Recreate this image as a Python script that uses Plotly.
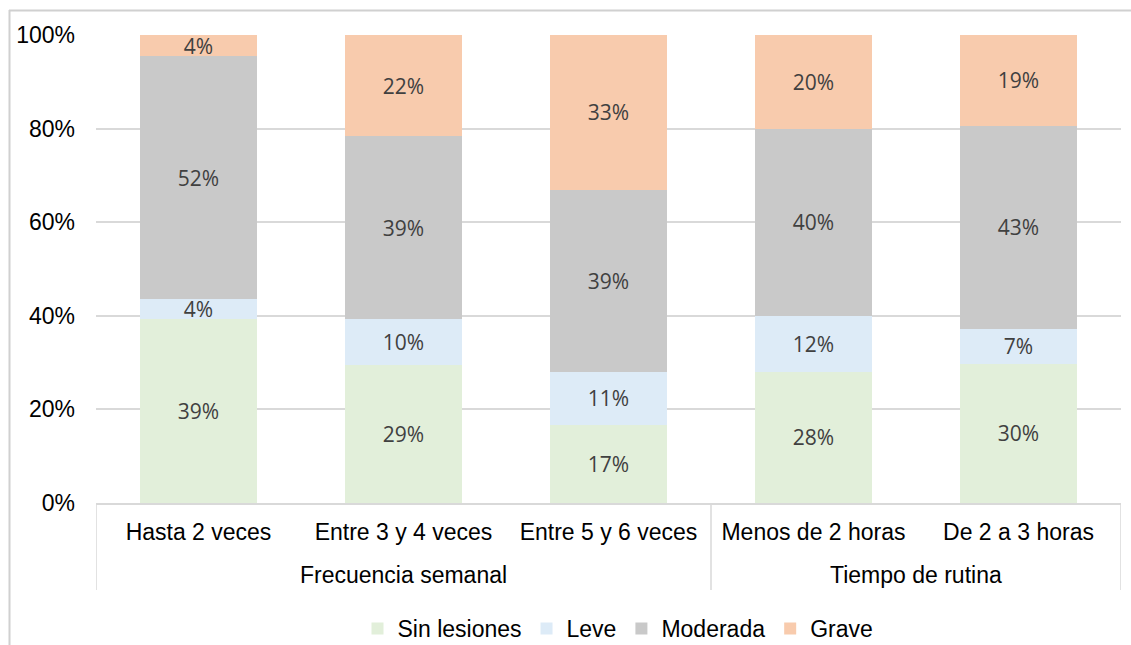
import plotly.graph_objects as go

categories = ["Hasta 2 veces", "Entre 3 y 4 veces", "Entre 5 y 6 veces",
              "Menos de 2 horas", "De 2 a 3 horas"]
group_names = ["Frecuencia semanal", "Tiempo de rutina"]
group_spans = [(0, 2), (3, 4)]  # index ranges of categories in each group

sin_lesiones = [39.3, 29.4, 16.7, 28.0, 29.8]
leve = [4.3, 9.9, 11.3, 12.0, 7.4]
moderada = [51.9, 39.1, 38.9, 40.0, 43.4]
grave = [4.5, 21.6, 33.1, 20.0, 19.4]

series = [
    ("Sin lesiones", sin_lesiones, "#E2EFDA"),
    ("Leve", leve, "#DDEBF7"),
    ("Moderada", moderada, "#C9C9C9"),
    ("Grave", grave, "#F8CBAD"),
]

fig = go.Figure()
for name, vals, color in series:
    fig.add_trace(go.Bar(
        x=categories, y=vals, name=name,
        marker=dict(color=color, line=dict(width=0)),
        text=[f"{round(v):d}%" for v in vals],
        textposition="inside", insidetextanchor="middle", textangle=0,
        textfont=dict(family="Open Sans", size=21, color="#404040"),
        hoverinfo="skip",
    ))

W, H = 1131, 645
L, R, T, B = 96, 10, 35, 142
pw, ph = W - L - R, H - T - B

def px(xp):
    return (xp - L) / pw

def py(yp):
    return (H - B - yp) / ph

GRID = "#D9D9D9"
BORDER = "#D0D0D0"
shapes = [
    # outer chart border (top and left edges; right/bottom lie outside the picture)
    dict(type="line", xref="paper", yref="paper", x0=px(9), x1=px(1131), y0=py(10.5), y1=py(10.5),
         line=dict(color=BORDER, width=2), layer="above"),
    dict(type="line", xref="paper", yref="paper", x0=px(9.5), x1=px(9.5), y0=py(10), y1=py(645),
         line=dict(color=BORDER, width=2), layer="above"),
]
annotations = []
bounds = sorted({s for s, _ in group_spans} | {e + 1 for _, e in group_spans})
for b in bounds:
    shapes.append(dict(type="line", xref="x", yref="paper", x0=b - 0.5, x1=b - 0.5,
                       y0=0, y1=py(590), line=dict(color=GRID, width=1.5)))
for gname, (s, e) in zip(group_names, group_spans):
    annotations.append(dict(text=gname, xref="x", yref="paper", x=(s + e) / 2, y=py(575),
                            xanchor="center", yanchor="middle", showarrow=False,
                            font=dict(family="Liberation Sans", size=23, color="#000000")))

fig.update_layout(
    width=W, height=H, barmode="stack", bargap=0.434,
    margin=dict(l=L, r=R, t=T, b=B, autoexpand=False),
    plot_bgcolor="white", paper_bgcolor="white",
    font=dict(family="Liberation Sans", size=23, color="#000000"),
    uniformtext=dict(mode="show", minsize=21),
    legend=dict(orientation="h", x=px(618), xanchor="center", y=py(650), yanchor="bottom",
                font=dict(family="Liberation Sans", size=23, color="#000000"),
                itemwidth=30, traceorder="normal", bgcolor="rgba(0,0,0,0)", borderwidth=0),
    showlegend=True,
    shapes=shapes,
    annotations=annotations,
)
fig.update_xaxes(
    type="category", showline=True, linecolor=GRID, linewidth=1.5,
    showgrid=False, ticks="", ticklabelstandoff=8, range=[-0.5, len(categories) - 0.5],
    tickfont=dict(family="Liberation Sans", size=23, color="#000000"),
)
fig.update_yaxes(
    range=[0, 100], dtick=20, ticksuffix="%", showgrid=True, gridcolor=GRID,
    gridwidth=1.5, zeroline=False, showline=False, ticklabelstandoff=20,
    tickfont=dict(family="Liberation Sans", size=23, color="#000000"),
)

fig.write_html("out.html", config={"displayModeBar": False},
               post_script="document.body.style.margin='0';document.body.style.overflow='hidden';")
